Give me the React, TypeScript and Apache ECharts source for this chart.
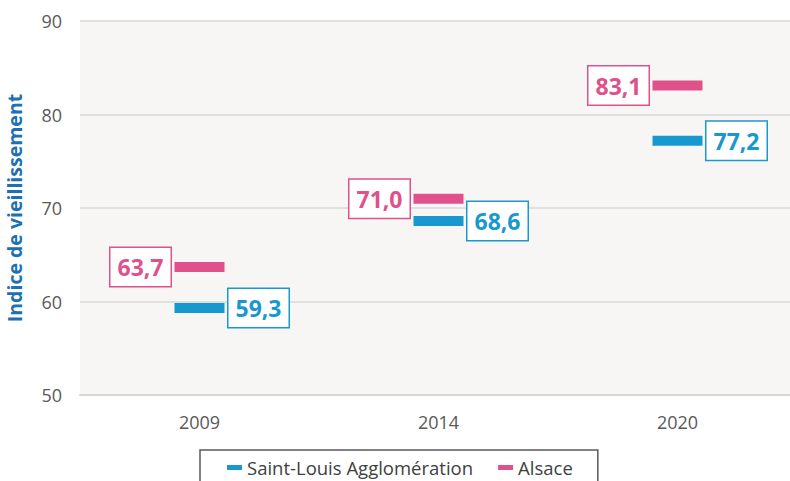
import React, { useEffect, useRef } from "react";
import * as echarts from "echarts";

const categories = ["2009", "2014", "2020"];
const saintLouis = [59.3, 68.6, 77.2];
const alsace = [63.7, 71.0, 83.1];
const seriesNames = ["Saint-Louis Agglomération", "Alsace"];
const yTitle = "Indice de vieillissement";

const BLUE = "#1798cf";
const PINK = "#e0508a";
const FONT = "'Open Sans', sans-serif";

const fmt = (v: number) => v.toFixed(1).replace(".", ",");

export default function App() {
  const ref = useRef<HTMLDivElement>(null);
  useEffect(() => {
    if (!ref.current) return;
    const chart = echarts.init(ref.current, null, { renderer: "svg" });
    const labelBase = (color: string, pos: string) => ({
      show: true,
      position: pos,
      distance: 4,
      formatter: (p: any) => fmt(p.value),
      color,
      fontFamily: FONT,
      fontSize: 23,
      fontWeight: "bold",
      lineHeight: 26,
      backgroundColor: "#ffffff",
      borderColor: color,
      borderWidth: 1.5,
      padding: [7, 7, 5, 7],
    });
    chart.setOption({
      animation: false,
      textStyle: { fontFamily: FONT },
      grid: {
        left: 80,
        top: 21,
        width: 717,
        height: 374,
        show: true,
        backgroundColor: "#f8f6f4",
        borderWidth: 0,
        outerBoundsMode: "none",
        containLabel: false,
      },
      legend: {
        left: 200,
        top: 450,
        data: seriesNames,
        icon: "rect",
        itemWidth: 15,
        itemHeight: 5,
        itemGap: 25,
        borderColor: "#595959",
        borderWidth: 1.5,
        padding: [8, 25, 8, 27],
        textStyle: { fontFamily: FONT, fontSize: 18.5, color: "#404040" },
      },
      xAxis: {
        type: "category",
        data: categories,
        axisTick: { show: false },
        axisLine: { lineStyle: { color: "#d6d6d6", width: 2 } },
        axisLabel: { color: "#595959", fontSize: 18, fontFamily: FONT, margin: 18 },
      },
      yAxis: {
        type: "value",
        min: 50,
        max: 90,
        interval: 10,
        name: yTitle,
        nameLocation: "middle",
        nameRotate: 90,
        nameGap: 56,
        nameTextStyle: { color: "#1c70b3", fontSize: 19.5, fontWeight: "bold", fontFamily: FONT },
        axisLine: { show: false },
        axisTick: { show: false },
        axisLabel: { color: "#595959", fontSize: 18, fontFamily: FONT, margin: 18 },
        splitLine: { lineStyle: { color: "#d9d9d9", width: 1.5 } },
      },
      series: [
        {
          name: seriesNames[0],
          type: "scatter",
          symbol: "rect",
          symbolSize: [50, 10],
          itemStyle: { color: BLUE, opacity: 1 },
          data: saintLouis,
          label: labelBase(BLUE, "right"),
          z: 3,
        },
        {
          name: seriesNames[1],
          type: "scatter",
          symbol: "rect",
          symbolSize: [50, 10],
          itemStyle: { color: PINK, opacity: 1 },
          data: alsace,
          label: labelBase(PINK, "left"),
          z: 3,
        },
      ],
    });
    return () => chart.dispose();
  }, []);
  return <div ref={ref} style={{ width: 790, height: 481, position: "absolute", left: 0, top: 0 }} />;
}
